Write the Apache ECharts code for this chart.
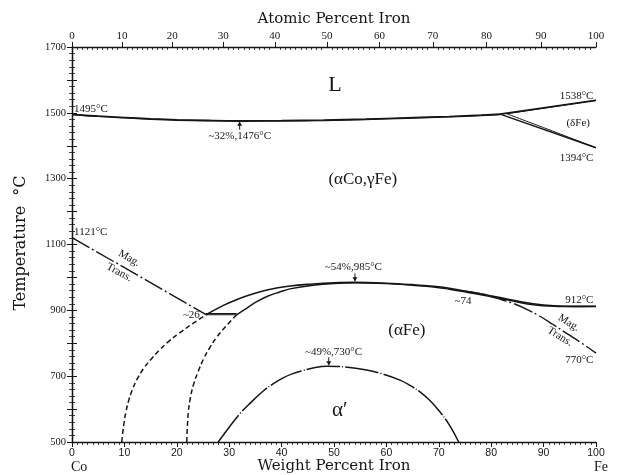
<!DOCTYPE html>
<html>
<head>
<meta charset="utf-8">
<script src="https://cdn.jsdelivr.net/npm/echarts@6/dist/echarts.min.js"></script>
<style>
  html, body { margin: 0; padding: 0; background: #fff; }
  #chart { width: 619px; height: 475px; }
</style>
</head>
<body>
<div id="chart"></div>
<script>
// Co-Fe phase diagram: temperature (°C) vs weight percent iron.

// Liquidus / solidus from pure Co to the peritectic near 82 wt% Fe
const liquidus = [[0,1495],[5,1490],[10,1486],[15,1482],[20,1479],[26,1477],[32,1476],[40,1476.5],[48,1478],[56,1481],[64,1485],[72,1489],[78,1493],[81.7,1496]];
const solidus = [[0,1495],[5,1489],[10,1484.5],[15,1480.5],[20,1477.5],[26,1475.5],[32,1474.5],[40,1475],[48,1476.5],[56,1479.5],[64,1483.5],[72,1487.5],[78,1491.5],[81.7,1494.5]];
// Delta-iron field
const deltaLiquidus = [[81.7,1496],[100,1538]];
const deltaSolidus = [[83,1497],[100,1538]];
const deltaGammaA = [[81.7,1496],[100,1394]];
const deltaGammaB = [[83,1497],[90,1455],[100,1394]];
// Magnetic transition of the fcc phase
const magTransLeft = [[0,1121],[25.5,888]];
// Horizontal reaction line near 26 wt%
const reactionUpper = [[25.5,890],[31.4,890]];
const reactionLower = [[25.5,886.5],[31.4,886.5]];
// gamma / (alpha+gamma) and (alpha+gamma) / alpha boundaries
const gammaBoundaryLow = [[9.5,500],[9.7,530],[9.95,560],[10.3,592],[10.8,625],[11.5,658],[12.4,690],[13.6,722],[15,750],[16.6,778],[18.4,805],[20.4,830],[22.7,856],[25.5,886]];
const gammaBoundaryHigh = [[25.5,886],[28.9,915],[31.5,933],[34,947],[37.2,962],[41.6,974],[46,980],[50,983.5],[54,985],[60,982.5],[65,978],[69,973],[72,967],[75.3,958],[78,950],[81.7,939],[85,928],[88,920],[92,914],[96,912],[100,912]];
const alphaBoundaryLow = [[21.9,500],[22,540],[22.2,590],[22.6,635],[23.2,675],[24.1,715],[25.1,752],[26.3,787],[27.6,818],[29.4,852],[31.4,886]];
const alphaBoundaryHigh = [[31.4,886],[33,903],[35,924],[37.2,942],[39.5,955],[41.6,965],[46,976],[50,981.5],[54,983.5],[60,981],[65,976],[69,971],[72,964],[75.3,955],[78,947],[81.7,936],[85,925],[88,917],[92,912.5],[96,911.5],[100,912]];
// Magnetic transition of the bcc phase
const magTransRight = [[74,960],[77.9,951],[81,937],[84.2,921],[86.8,903],[89.3,882],[91.8,857],[94.4,830],[97.2,801],[100,770]];
// Order-disorder (alpha') boundary
const alphaPrime = [[27.9,500],[30,545],[32.1,587],[34,618],[36.5,655],[38.5,678],[40.3,695],[42,707],[44,717],[46,725],[48.6,730],[52,728],[56.2,719],[59,708],[62.6,688],[64.5,672],[66.4,652],[68.3,626],[70.2,592],[72,552],[73.8,500]];

// Special points with arrows: [wt% Fe, °C, arrow below the curve (1) or above (-1)]
const arrowMarks = [[32,1476,1],[54,985,-1],[49,730,-1]];

// Axis ticks
const weightTicks = [0,10,20,30,40,50,60,70,80,90,100];
const atomicTicks = [0,10,20,30,40,50,60,70,80,90,100];
const tempTicks = [500,700,900,1100,1300,1500,1700];

// Atomic percent Fe -> weight percent Fe
const M_FE = 55.845, M_CO = 58.933;
function atomicToWeight(a) {
  return 100 * a * M_FE / (a * M_FE + (100 - a) * M_CO);
}
const atomicMajorPos = atomicTicks.map(atomicToWeight);
const atomicMinorPos = [];
for (let a = 1; a < 100; a++) { if (a % 10 !== 0) atomicMinorPos.push(atomicToWeight(a)); }

// Text annotations in data coordinates
const notes = [
  { text: 'L', at: [50.2, 1585], font: '22px "Liberation Serif"' },
  { text: '(αCo,γFe)', at: [55.5, 1296], font: '17px "Liberation Serif"' },
  { text: '(δFe)', at: [96.6, 1468], font: '11px "Liberation Serif"' },
  { text: '1538°C', at: [99.5, 1550], align: 'right' },
  { text: '1394°C', at: [99.5, 1363], align: 'right' },
  { text: '1495°C', at: [0.4, 1510], align: 'left' },
  { text: '~32%,1476°C', at: [32, 1430] },
  { text: '1121°C', at: [0.4, 1137], align: 'left' },
  { text: 'Mag.', at: [10.9, 1058], rot: -0.5 },
  { text: 'Trans.', at: [9.0, 1015], rot: -0.5 },
  { text: '~26', at: [24.4, 886], align: 'right' },
  { text: '~54%,985°C', at: [53.7, 1031] },
  { text: '(αFe)', at: [63.9, 840], font: '17px "Liberation Serif"' },
  { text: '~49%,730°C', at: [49.9, 774] },
  { text: 'α\u2032', at: [51.1, 597], font: '21px "Liberation Serif"' },
  { text: '~74', at: [74.6, 929] },
  { text: '912°C', at: [99.5, 932], align: 'right' },
  { text: 'Mag.', at: [94.8, 862], rot: -0.55 },
  { text: 'Trans.', at: [93.1, 820], rot: -0.55 },
  { text: '770°C', at: [99.5, 749], align: 'right' }
];

const INK = '#161616';
const SMALL_FONT = '11px "Liberation Serif"';

function curve(name, data, opts) {
  opts = opts || {};
  return {
    name: name,
    type: 'line',
    data: data,
    showSymbol: false,
    smooth: opts.smooth === undefined ? 0.4 : opts.smooth,
    silent: true,
    z: 3,
    lineStyle: { color: INK, width: opts.width || 1.5, type: opts.dash || 'solid' },
    animation: false
  };
}

const chart = echarts.init(document.getElementById('chart'), null, { renderer: 'canvas' });

const axisLineStyle = { lineStyle: { color: INK, width: 1.3 } };

chart.setOption({
  backgroundColor: '#fff',
  animation: false,
  grid: { left: 72, top: 47, width: 524, height: 395, containLabel: false },
  xAxis: [
    {
      type: 'value', position: 'bottom', min: 0, max: 100, interval: 10,
      axisLine: axisLineStyle,
      axisTick: { length: 5, lineStyle: { color: INK, width: 1 } },
      minorTick: { show: true, splitNumber: 10, length: 3, lineStyle: { color: INK, width: 0.8 } },
      axisLabel: { color: INK, fontSize: 10.5, fontFamily: 'Liberation Sans', margin: 6,
        customValues: weightTicks },
      splitLine: { show: false }
    },
    {
      type: 'value', position: 'top', min: 0, max: 100,
      axisLine: axisLineStyle,
      axisTick: { length: 5, customValues: atomicMajorPos, lineStyle: { color: INK, width: 1 } },
      axisLabel: {
        color: INK, fontSize: 11, fontFamily: 'Liberation Serif', margin: 5,
        customValues: atomicMajorPos,
        formatter: function (v) {
          let best = 0, d = Infinity;
          atomicMajorPos.forEach(function (p, i) { const e = Math.abs(p - v); if (e < d) { d = e; best = i; } });
          return String(atomicTicks[best]);
        }
      },
      splitLine: { show: false }
    },
    {
      type: 'value', position: 'top', min: 0, max: 100,
      axisLine: { show: false },
      axisTick: { length: 3, inside: true, customValues: atomicMinorPos, lineStyle: { color: INK, width: 0.8 } },
      axisLabel: { show: false },
      splitLine: { show: false }
    }
  ],
  yAxis: [
    {
      type: 'value', position: 'left', min: 500, max: 1700, interval: 100,
      axisLine: axisLineStyle,
      axisTick: { length: 5, lineStyle: { color: INK, width: 1 } },
      minorTick: { show: true, splitNumber: 5, length: 3, lineStyle: { color: INK, width: 0.8 } },
      axisLabel: {
        color: INK, fontSize: 10.5, fontFamily: 'Liberation Serif', margin: 6,
        formatter: function (v) { return tempTicks.indexOf(v) >= 0 ? String(v) : ''; }
      },
      splitLine: { show: false }
    },
    {
      type: 'value', position: 'right', min: 500, max: 1700, interval: 100,
      axisLine: axisLineStyle,
      axisTick: { length: 5, lineStyle: { color: INK, width: 1 } },
      minorTick: { show: true, splitNumber: 5, length: 3, lineStyle: { color: INK, width: 0.8 } },
      axisLabel: { show: false },
      splitLine: { show: false }
    }
  ],
  series: [
    curve('liquidus', liquidus, { width: 1.6 }),
    curve('solidus', solidus, { width: 1.3 }),
    curve('delta liquidus', deltaLiquidus, { smooth: false, width: 1.7 }),
    curve('delta solidus', deltaSolidus, { smooth: false, width: 1.1 }),
    curve('delta/gamma A', deltaGammaA, { smooth: false, width: 1.5 }),
    curve('delta/gamma B', deltaGammaB, { smooth: 0.2, width: 1.0 }),
    curve('mag trans fcc', magTransLeft, { smooth: false, width: 1.4, dash: [20, 3, 2, 3] }),
    curve('reaction upper', reactionUpper, { smooth: false, width: 1.1 }),
    curve('reaction lower', reactionLower, { smooth: false, width: 1.1 }),
    curve('gamma boundary low', gammaBoundaryLow, { width: 1.5, dash: [5, 3] }),
    curve('gamma boundary high', gammaBoundaryHigh, { width: 1.6 }),
    curve('alpha boundary low', alphaBoundaryLow, { width: 1.5, dash: [5, 3] }),
    curve('alpha boundary high', alphaBoundaryHigh, { width: 1.4 }),
    curve('mag trans bcc', magTransRight, { width: 1.4, dash: [20, 3, 2, 3] }),
    curve('alpha prime', alphaPrime, { width: 1.5, dash: [34, 2, 1, 2] }),
    {
      name: 'arrows',
      type: 'custom',
      silent: true,
      z: 4,
      data: arrowMarks,
      renderItem: function (params, api) {
        const p = api.coord([api.value(0), api.value(1)]);
        const dir = api.value(2);           // 1: arrow sits below pointing up
        const tipY = p[1] + dir * 1;
        const tailY = p[1] + dir * 9;
        const baseY = p[1] + dir * 5;
        return {
          type: 'group',
          children: [
            { type: 'line', shape: { x1: p[0], y1: tipY, x2: p[0], y2: tailY }, style: { stroke: INK, lineWidth: 1 } },
            { type: 'polygon', shape: { points: [[p[0], tipY], [p[0] - 2.5, baseY], [p[0] + 2.5, baseY]] }, style: { fill: INK } }
          ]
        };
      }
    },
    {
      name: 'notes',
      type: 'custom',
      silent: true,
      z: 5,
      data: notes.map(function (n) { return n.at; }),
      renderItem: function (params, api) {
        const n = notes[params.dataIndex];
        const p = api.coord([api.value(0), api.value(1)]);
        return {
          type: 'text',
          x: p[0], y: p[1],
          rotation: n.rot || 0,
          style: {
            text: n.text,
            fill: INK,
            font: n.font || SMALL_FONT,
            align: n.align || 'center',
            verticalAlign: 'middle'
          }
        };
      }
    }
  ],
  graphic: [
    { type: 'text', x: 334, y: 19, style: { text: 'Atomic Percent Iron', font: '15px "DejaVu Serif"', fill: INK, align: 'center', verticalAlign: 'middle' } },
    { type: 'text', x: 334, y: 466, style: { text: 'Weight Percent Iron', font: '15px "DejaVu Serif"', fill: INK, align: 'center', verticalAlign: 'middle' } },
    { type: 'text', x: 71, y: 467, style: { text: 'Co', font: '14px "Liberation Serif"', fill: INK, align: 'left', verticalAlign: 'middle' } },
    { type: 'text', x: 594, y: 467, style: { text: 'Fe', font: '14px "Liberation Serif"', fill: INK, align: 'left', verticalAlign: 'middle' } },
    { type: 'text', x: 21, y: 243, rotation: Math.PI / 2, style: { text: 'Temperature  °C', font: '16px "DejaVu Serif"', fill: INK, align: 'center', verticalAlign: 'middle' } }
  ]
});
</script>
</body>
</html>
